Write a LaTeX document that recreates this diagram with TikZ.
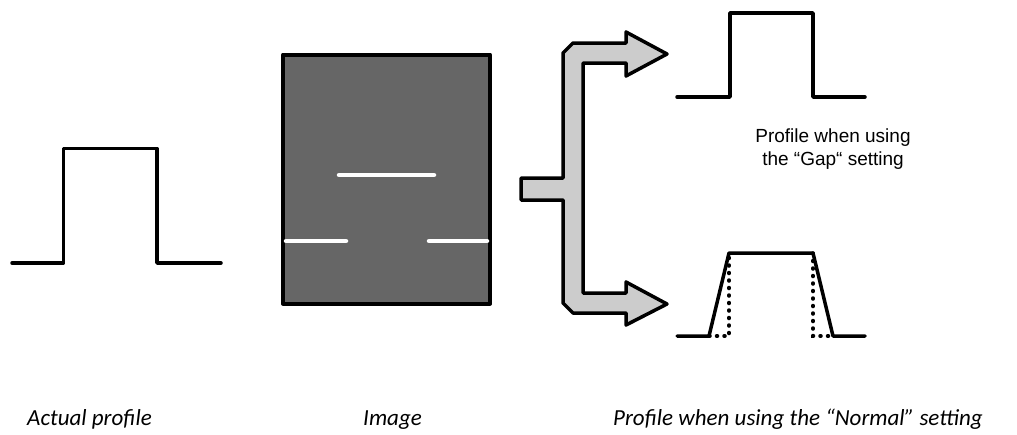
\documentclass[tikz,border=0pt]{standalone}
\usepackage{fontspec}
\newfontfamily\capfont{Carlito}
\newfontfamily\gapfont{Liberation Sans}
\definecolor{imggray}{HTML}{666666}
\definecolor{arrgray}{HTML}{CCCCCC}
\begin{document}
\begin{tikzpicture}[x=1pt,y=-1pt,
  prof/.style={line width=3.5pt,line join=round,line cap=round},
  dotprof/.style={line width=3.5pt,line cap=round,dash pattern=on 1pt off 6.5pt},
  slit/.style={white,line width=4.5pt,line cap=round},
  caption/.style={font=\capfont\itshape\fontsize{23}{27}\selectfont,anchor=base west,inner sep=0pt},
  gaplabel/.style={font=\gapfont\fontsize{19}{24}\selectfont,anchor=base,inner sep=0pt}]
\useasboundingbox (0,0) rectangle (1017,434);
% actual profile
\draw[prof] (12,263) -- (63.5,263) -- (63.5,148.5) -- (157,148.5) -- (157,263) -- (221,263);
% image
\draw[line width=4pt,fill=imggray,line join=round] (283,54.5) rectangle (490,303.5);
\draw[slit] (339,175) -- (434,175);
\draw[slit] (286,241) -- (346,241);
\draw[slit] (429,241) -- (487,241);
% split arrow
\draw[line width=3.5pt,fill=arrgray,line join=round]
  (521,178) -- (563,178) -- (563,53) -- (573,43) -- (626,43) -- (626,32) -- (667,54) -- (626,76)
  -- (626,63) -- (583,63) -- (583,293) -- (626,293) -- (626,282) -- (667,304) -- (626,325)
  -- (626,313) -- (573,313) -- (563,303) -- (563,200) -- (521,200) -- cycle;
% gap profile
\draw[prof] (677,97) -- (730,97) -- (730,13) -- (813,13) -- (813,97) -- (865,97);
\node[gaplabel] (gaptext1) at (833,142) {Profile when using};
\node[gaplabel] (gaptext2) at (833,165) {the “Gap“ setting};
% normal profile
\draw[dotprof] (709,336) -- (729,336) -- (729,253);
\draw[dotprof] (813,253) -- (813,336) -- (833,336);
\draw[prof] (677,336) -- (709,336) -- (729,253) -- (813,253) -- (833,336) -- (865,336);
% captions
\node[caption] (c1) at (27,425) {Actual profile};
\node[caption] (c2) at (363,425) {Image};
\node[caption] (c3) at (613,425) {Profile when using the “Normal” setting};
\end{tikzpicture}
\end{document}
